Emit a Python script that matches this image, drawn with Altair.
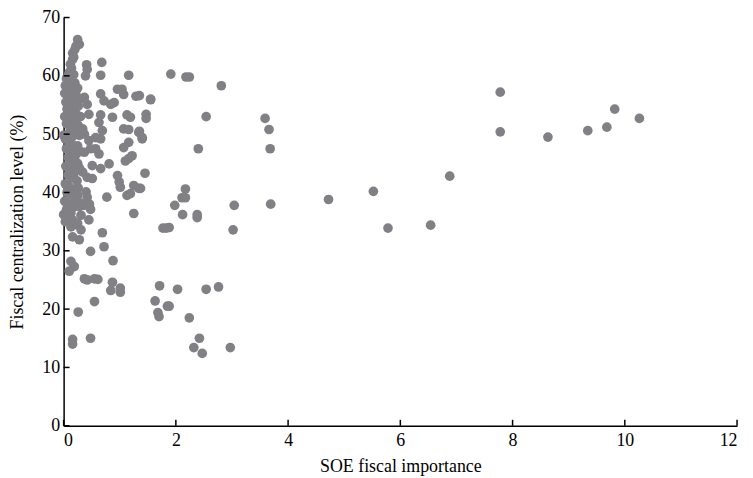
import altair as alt
import pandas as pd

# SOE fiscal importance (x) and fiscal centralization level % (y)
x_vals = [
    # dense strip near zero
    0.25, 0.28, 0.22, 0.20, 0.16, 0.18, 0.16, 0.12, 0.14, 0.10, 0.08, 0.18, 0.05, 0.12, 0.20,
    0.03, 0.09, 0.15, 0.25, 0.02, 0.07, 0.13, 0.22, 0.30, 0.04, 0.10, 0.18, 0.26, 0.06, 0.14,
    0.22, 0.30, 0.02, 0.10, 0.18, 0.26, 0.05, 0.12, 0.20, 0.00, 0.03, 0.08, 0.15, 0.28, 0.10,
    0.18, 0.05, 0.12, 0.22, 0.30, 0.08, 0.16, 0.25, 0.04, 0.12, 0.20, 0.28, 0.08, 0.15, 0.24,
    0.03, 0.10, 0.18, 0.26, 0.06, 0.14, 0.22, 0.02, 0.10, 0.18, 0.05, 0.13, 0.00, 0.08, 0.16,
    0.22, 0.03,
    # x 0.3 - 1.6
    0.41, 0.42, 0.39, 0.68, 0.66, 1.16, 0.66, 0.96, 1.04, 1.07, 1.29, 1.55, 0.72, 0.84, 0.90,
    0.37, 0.42, 0.45, 0.66, 0.87, 1.13, 1.19, 1.47, 1.47, 0.63, 0.69, 1.07, 1.16, 1.34, 1.40,
    0.57, 0.45, 0.66, 0.34, 0.37, 1.16, 1.07, 0.25, 0.48, 0.57, 0.63, 0.37, 1.22, 1.16, 1.10,
    0.16, 0.22, 0.51, 0.66, 0.81, 1.45, 0.96, 0.99, 1.01, 0.16, 0.34, 0.42, 0.51, 1.25, 1.34,
    1.13, 1.19, 0.77, 0.07, 0.40, 0.42, 0.25, 1.35, 1.55, 1.35, 1.40, 1.37,
    0.30, 0.36, 0.46, 0.28, 1.25, 0.69, 0.72, 0.48, 0.88, 0.13, 0.19, 0.10, 0.37, 0.42, 0.55,
    0.61, 0.87, 0.84, 1.01, 1.01, 0.13, 0.16, 0.28, 0.31, 0.25, 0.45, 0.31, 0.48, 0.07, 0.07,
    0.55, 0.26, 0.16, 0.16, 0.48,
    # x 1.6 - 4
    1.91, 2.18, 2.24, 2.81, 2.54, 3.59, 3.66, 2.40, 3.68, 2.17, 2.11, 2.17, 1.98, 2.12, 2.38,
    2.38, 3.04, 3.69, 3.02, 1.88, 2.03, 2.54, 2.76, 1.88, 2.24, 2.42, 2.32, 2.47, 2.97, 1.77,
    1.83, 1.71, 1.63, 1.85, 1.68, 1.70,
    # x > 4
    4.72, 5.52, 5.78, 6.54, 6.88, 7.78, 7.78, 8.63, 9.34, 9.68, 9.82, 10.26,
]
y_vals = [
    66.2, 65.4, 65.1, 64.5, 63.9, 63.2, 62.8, 62.0, 61.3, 60.6, 60.0, 60.2, 59.5, 59.0, 58.8,
    58.3, 57.8, 57.5, 57.9, 57.0, 56.5, 56.2, 56.8, 56.0, 55.5, 55.0, 55.3, 54.8, 54.3, 53.8,
    53.5, 53.0, 53.0, 52.5, 52.0, 51.5, 51.8, 51.0, 50.5, 49.8, 49.2, 50.0, 49.5, 49.8, 48.5,
    48.0, 47.5, 47.0, 46.5, 47.0, 46.0, 45.5, 45.0, 44.5, 44.0, 43.5, 44.2, 43.0, 42.5, 42.0,
    41.5, 41.0, 40.5, 40.8, 40.0, 39.5, 39.0, 38.5, 38.0, 37.5, 37.0, 36.5, 36.2, 35.8, 35.3,
    34.5, 35.0,
    61.9, 61.1, 60.0, 62.3, 60.1, 60.1, 56.9, 57.7, 57.7, 56.8, 56.5, 56.0, 55.7, 55.1, 55.4,
    56.3, 55.1, 53.4, 53.3, 52.9, 53.3, 52.9, 53.4, 52.7, 52.0, 50.6, 50.9, 50.8, 50.3, 49.4,
    49.4, 48.9, 49.2, 50.9, 50.0, 48.6, 47.7, 48.0, 47.5, 47.5, 46.6, 46.9, 46.3, 45.8, 45.4,
    45.8, 45.2, 44.6, 44.1, 44.9, 43.3, 42.9, 41.8, 40.9, 42.6, 43.5, 42.6, 42.4, 41.2, 40.7,
    39.5, 39.8, 39.2, 40.9, 40.1, 39.2, 39.5, 56.6, 55.9, 50.5, 49.2, 40.7,
    38.2, 37.8, 38.0, 37.6, 36.4, 33.1, 30.7, 29.9, 28.3, 28.2, 27.3, 26.5, 25.2, 25.0, 25.2,
    25.1, 24.6, 23.2, 23.6, 22.9, 34.1, 32.4, 31.9, 33.6, 34.7, 35.3, 36.1, 37.1, 36.7, 37.5,
    21.3, 19.5, 14.8, 14.0, 15.0,
    60.3, 59.8, 59.8, 58.3, 53.0, 52.7, 50.8, 47.5, 47.5, 40.6, 39.1, 39.1, 37.8, 36.2, 36.2,
    35.7, 37.8, 38.0, 33.6, 34.0, 23.4, 23.4, 23.8, 20.5, 18.5, 15.0, 13.4, 12.4, 13.4, 33.9,
    33.9, 24.0, 21.4, 20.5, 19.4, 18.7,
    38.8, 40.2, 33.9, 34.4, 42.8, 57.2, 50.4, 49.5, 50.6, 51.2, 54.3, 52.7,
]

x_ticks = [0, 2, 4, 6, 8, 10, 12]
y_ticks = [0, 10, 20, 30, 40, 50, 60, 70]

df = pd.DataFrame({"x": x_vals, "y": y_vals})
xt = pd.DataFrame({"t": x_ticks})
yt = pd.DataFrame({"t": y_ticks})

W, H = 678, 411
FONT = "Liberation Serif"

xscale = alt.Scale(domain=[0, 12], nice=False, zero=True)
yscale = alt.Scale(domain=[0, 70], nice=False, zero=True)

points = alt.Chart(df).mark_circle(size=95, color="#808085", opacity=1).encode(
    x=alt.X("x:Q", scale=xscale, title="SOE fiscal importance",
            axis=alt.Axis(values=x_ticks, format="d", ticks=False, grid=False, labelPadding=6,
                          titlePadding=8)),
    y=alt.Y("y:Q", scale=yscale, title="Fiscal centralization level (%)",
            axis=alt.Axis(values=y_ticks, format="d", ticks=False, grid=False, labelPadding=4,
                          titleX=-46, titleY=H / 2, titleBaseline="middle")),
)

xticks = alt.Chart(xt).mark_rule(color="black", strokeWidth=1.5).encode(
    x=alt.X("t:Q", scale=xscale), y=alt.value(H), y2=alt.value(H - 6)
)
yticks = alt.Chart(yt).mark_rule(color="black", strokeWidth=1.5).encode(
    y=alt.Y("t:Q", scale=yscale), x=alt.value(0), x2=alt.value(6)
)

chart = alt.layer(points, xticks, yticks).properties(
    width=W, height=H,
    autosize=alt.AutoSizeParams(type="none"),
    padding={"left": 56, "top": 8, "right": 8, "bottom": 50},
).configure_view(stroke=None).configure_axis(
    domainColor="black", domainWidth=1.5, labelFont=FONT, titleFont=FONT,
    labelFontSize=18, titleFontSize=18, titleFontWeight="normal", labelColor="black",
    titleColor="black",
)

chart.save("out.html", embed_options={"renderer": "svg", "actions": False})
